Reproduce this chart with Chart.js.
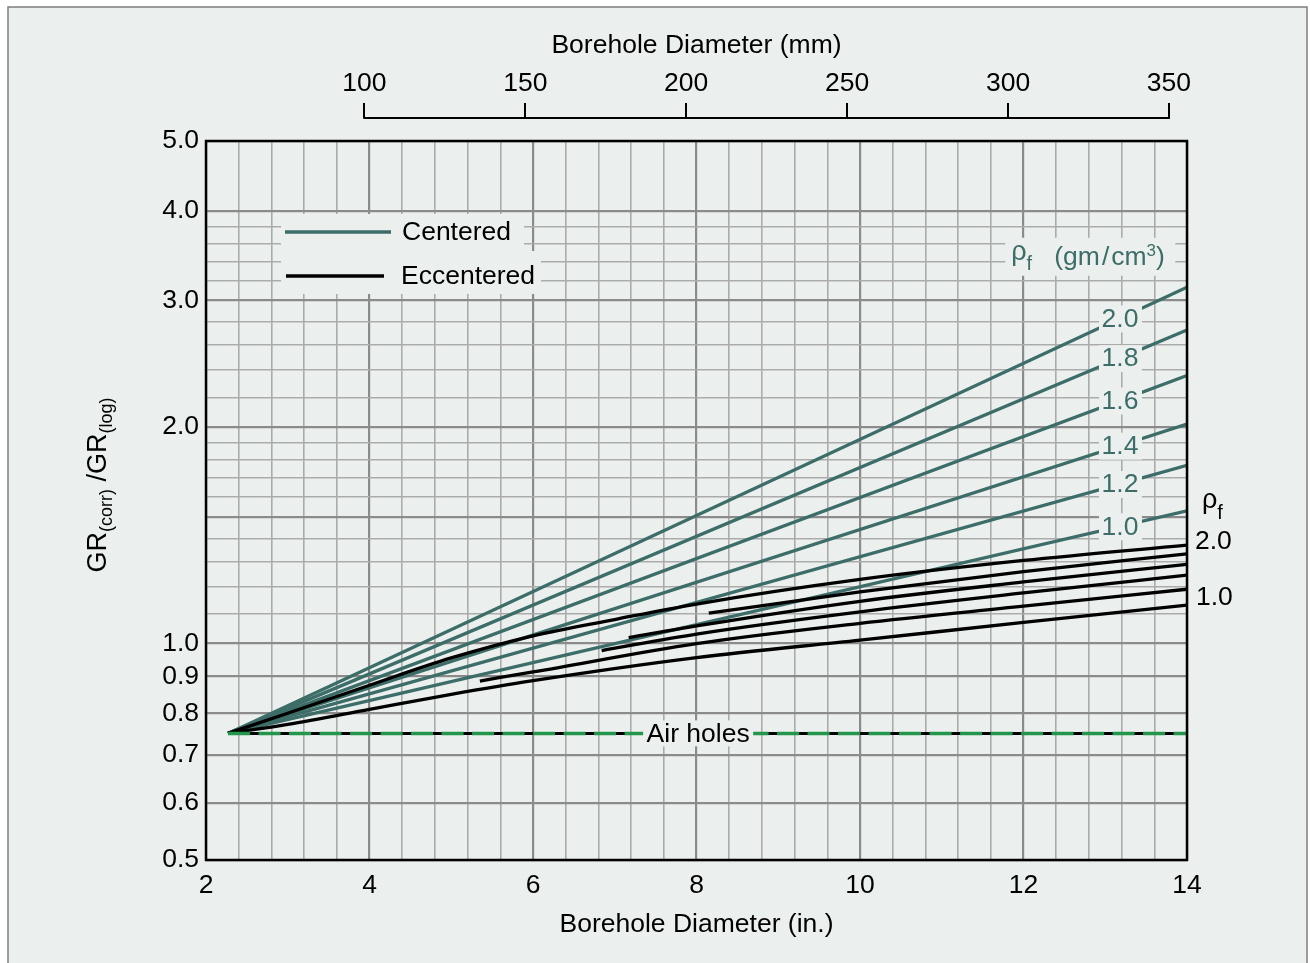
<!DOCTYPE html>
<html>
<head>
<meta charset="utf-8">
<title>GR borehole correction</title>
<script src="https://cdn.jsdelivr.net/npm/chart.js@4.4.1/dist/chart.umd.min.js"></script>
<style>
  html, body { margin: 0; padding: 0; background: #fff; }
  canvas { display: block; }
</style>
</head>
<body>
<canvas id="grChart" width="1310" height="963"></canvas>
<script>
// axis ticks
var inchTicks = [2, 4, 6, 8, 10, 12, 14];
var mmTicks = [100, 150, 200, 250, 300, 350];
var ratioTicks = [0.5, 0.6, 0.7, 0.8, 0.9, 1.0, 2.0, 3.0, 4.0, 5.0];
var ratioGrid = [0.5, 0.6, 0.7, 0.8, 0.9, 1.0, 1.1, 1.2, 1.3, 1.4, 1.5, 1.6, 1.7, 1.8, 1.9,
                 2.0, 2.2, 2.4, 2.6, 2.8, 3.0, 3.2, 3.4, 3.6, 3.8, 4.0, 5.0];
var ratioMajor = [0.5, 0.6, 0.7, 0.8, 0.9, 1.0, 1.5, 2.0, 3.0, 4.0, 5.0];

// centered tool, one straight line per mud density (gm/cm3)
var densities = ['2.0', '1.8', '1.6', '1.4', '1.2', '1.0'];
var centeredX = [2.27, 14];
var centeredStart = 0.75;
var centeredEnd = [3.13, 2.73, 2.36, 2.02, 1.77, 1.53];

// eccentered tool curves, top (2.0) to bottom (1.0)
var ecc20x = [2.27, 3, 4, 5, 6, 7, 8, 10, 12, 14];
var ecc20y = [0.75, 0.80, 0.875, 0.955, 1.025, 1.08, 1.135, 1.228, 1.305, 1.371];
var ecc18x = [8.15, 10, 12, 14];
var ecc18y = [1.102, 1.18, 1.259, 1.333];
var ecc16x = [7.17, 8, 10, 12, 14];
var ecc16y = [1.019, 1.058, 1.145, 1.218, 1.289];
var ecc14x = [6.84, 8, 10, 12, 14];
var ecc14y = [0.978, 1.031, 1.107, 1.176, 1.245];
var ecc12x = [5.35, 6, 8, 10, 12, 14];
var ecc12y = [0.887, 0.913, 1.0, 1.067, 1.127, 1.19];
var ecc10x = [2.27, 3, 4, 5, 6, 8, 10, 12, 14];
var ecc10y = [0.75, 0.772, 0.81, 0.85, 0.888, 0.956, 1.011, 1.07, 1.131];

// air-filled holes
var airX = [2.27, 14];
var airY = [0.75, 0.75];

var FONT = '"Liberation Sans", Arial, Helvetica, sans-serif';
var SIZE = 26.5;
var BG = '#ebf0ee';
var TEAL = '#3d6d68';
var GREEN = '#22964a';
var labelAtX = 13.18;

Chart.defaults.font.family = FONT;
Chart.defaults.font.size = SIZE;
Chart.defaults.color = '#000';

function pts(xs, ys) {
    return xs.map(function(x, i) { return { x: x, y: ys[i] }; });
}

var centeredSets = centeredEnd.map(function(end, i) {
    return {
        label: 'Centered ' + densities[i],
        data: pts(centeredX, [centeredStart, end]),
        borderColor: TEAL,
        borderWidth: 3.3,
        pointRadius: 0,
        order: 3
    };
});

var eccSets = [[ecc20x, ecc20y], [ecc18x, ecc18y], [ecc16x, ecc16y],
               [ecc14x, ecc14y], [ecc12x, ecc12y], [ecc10x, ecc10y]].map(function(c, i) {
    return {
        label: 'Eccentered ' + densities[i],
        data: pts(c[0], c[1]),
        borderColor: '#000',
        borderWidth: 3.3,
        pointRadius: 0,
        cubicInterpolationMode: 'monotone',
        order: 2
    };
});

var airSets = [{
    label: 'Air holes',
    data: pts(airX, airY),
    borderColor: '#000',
    borderWidth: 3,
    pointRadius: 0,
    order: 1
}, {
    label: 'Air holes dash',
    data: pts(airX, airY),
    borderColor: GREEN,
    borderWidth: 3.5,
    borderDash: [22, 8.5],
    pointRadius: 0,
    order: 0
}];

function isMajorInch(v) {
    return inchTicks.indexOf(Math.round(v * 10) / 10) >= 0;
}

// value of a straight (log) centered line at x
function lineValueAt(ds, x) {
    var a = ds.data[0], b = ds.data[ds.data.length - 1];
    var t = (x - a.x) / (b.x - a.x);
    return Math.pow(10, Math.log10(a.y) + t * (Math.log10(b.y) - Math.log10(a.y)));
}

// parts: [text, size, dy, extra gap after]
function drawRich(c, parts, x, y) {
    parts.forEach(function(p) {
        c.font = p[1] + 'px ' + FONT;
        c.fillText(p[0], x, y + p[2]);
        x += c.measureText(p[0]).width + (p[3] || 0);
    });
    return x;
}

var decor = {
    id: 'decor',
    beforeDraw: function(chart) {
        var c = chart.ctx;
        c.save();
        c.fillStyle = '#fff';
        c.fillRect(0, 0, chart.width, chart.height);
        c.fillStyle = BG;
        c.fillRect(8, 7, 1299, chart.height - 7);
        c.strokeStyle = '#7d7d7d';
        c.lineWidth = 1.5;
        c.beginPath();
        c.moveTo(8, chart.height);
        c.lineTo(8, 7);
        c.lineTo(1307, 7);
        c.lineTo(1307, chart.height);
        c.stroke();
        c.restore();
    },
    beforeDatasetsDraw: function(chart) {
        var c = chart.ctx, xs = chart.scales.x, ys = chart.scales.y;
        c.save();
        // legend
        c.fillStyle = BG;
        c.fillRect(281, 214, 243, 37);
        c.fillRect(281, 251, 260, 43);
        c.lineWidth = 3.5;
        c.strokeStyle = TEAL;
        c.beginPath(); c.moveTo(285, 232); c.lineTo(391, 232); c.stroke();
        c.strokeStyle = '#000';
        c.beginPath(); c.moveTo(286, 276); c.lineTo(384, 276); c.stroke();
        c.fillStyle = '#000';
        c.font = SIZE + 'px ' + FONT;
        c.textBaseline = 'middle';
        c.fillText('Centered', 402, 233);
        c.fillText('Eccentered', 401, 277);

        // density header for the centered lines
        var hx = xs.getPixelForValue(11.85), hy = ys.getPixelForValue(3.44);
        c.fillStyle = BG;
        c.fillRect(hx - 6, hy - 20, 170, 38);
        c.fillStyle = TEAL;
        c.textBaseline = 'alphabetic';
        drawRich(c, [['\u03c1', 27, 2], ['f', 20, 12]], hx, hy);
        drawRich(c, [['(gm', SIZE, 7, 2], ['/', SIZE, 7, 2], ['cm', SIZE, 7], ['3', 17, -2], [')', SIZE, 7]], hx + 43, hy);
        c.restore();
    },
    afterDatasetsDraw: function(chart) {
        var c = chart.ctx, a = chart.chartArea;
        var xs = chart.scales.x, ys = chart.scales.y, x2 = chart.scales.x2;
        c.save();
        c.font = SIZE + 'px ' + FONT;
        c.textAlign = 'center';
        c.textBaseline = 'middle';

        // density labels sitting on the centered lines
        centeredSets.forEach(function(ds, i) {
            var px = xs.getPixelForValue(labelAtX);
            var py = ys.getPixelForValue(lineValueAt(ds, labelAtX));
            c.fillStyle = BG;
            c.fillRect(px - 21, py - 13, 43, 27);
            c.fillStyle = TEAL;
            c.fillText(densities[i], px, py + 1);
        });

        // air holes label
        var ax = xs.getPixelForValue(8.02), ay = ys.getPixelForValue(airY[0]);
        c.fillStyle = BG;
        c.fillRect(ax - 55, ay - 13, 110, 26);
        c.fillStyle = '#000';
        c.fillText('Air holes', ax, ay + 1);

        // plot frame
        c.strokeStyle = '#000';
        c.lineWidth = 2.5;
        c.strokeRect(a.left, a.top, a.right - a.left, a.bottom - a.top);

        // top mm axis line
        c.lineWidth = 2;
        c.beginPath();
        c.moveTo(x2.getPixelForValue(mmTicks[0]) - 1, x2.bottom);
        c.lineTo(x2.getPixelForValue(mmTicks[mmTicks.length - 1]) + 1, x2.bottom);
        c.stroke();

        // eccentered density labels at the right edge
        c.textAlign = 'left';
        c.textBaseline = 'alphabetic';
        drawRich(c, [['\u03c1', 27, 0], ['f', 20, 11]], a.right + 15, 508);
        c.font = SIZE + 'px ' + FONT;
        c.textBaseline = 'middle';
        var topEnd = ys.getPixelForValue(ecc20y[ecc20y.length - 1]);
        var lowEnd = ys.getPixelForValue(ecc10y[ecc10y.length - 1]);
        c.fillText('2.0', a.right + 8, topEnd - 3);
        c.fillText('1.0', a.right + 9, lowEnd - 7);

        // y axis title with subscripts
        c.translate(106, 485);
        c.rotate(-Math.PI / 2);
        c.textBaseline = 'alphabetic';
        var parts = [['GR', 27, 0], ['(corr)', 18, 6], [' /', 27, 0], ['GR', 27, 0], ['(log)', 18, 6]];
        var total = 0;
        parts.forEach(function(p) { c.font = p[1] + 'px ' + FONT; total += c.measureText(p[0]).width; });
        drawRich(c, parts, -total / 2, 0);
        c.restore();
    }
};

var ctx = document.getElementById('grChart').getContext('2d');

var grChart = new Chart(ctx, {
    type: 'line',
    data: { datasets: airSets.concat(eccSets, centeredSets) },
    options: {
        responsive: false,
        animation: false,
        layout: { padding: { left: 0, right: 123, top: 0, bottom: 0 } },
        plugins: { legend: { display: false }, tooltip: { enabled: false } },
        scales: {
            x: {
                type: 'linear',
                position: 'bottom',
                min: 2,
                max: 14,
                afterBuildTicks: function(s) {
                    var t = [];
                    for (var k = 0; k <= 30; k++) t.push({ value: Math.round((2 + 0.4 * k) * 10) / 10 });
                    s.ticks = t;
                },
                afterFit: function(s) { s.height = 103; },
                grid: {
                    drawTicks: false,
                    color: function(c) { return c.tick && isMajorInch(c.tick.value) ? '#8b8b8b' : '#ababab'; },
                    lineWidth: function(c) { return c.tick && isMajorInch(c.tick.value) ? 2.2 : 1.6; }
                },
                border: { display: false },
                ticks: {
                    autoSkip: false,
                    maxRotation: 0,
                    padding: 10,
                    callback: function(v) { return isMajorInch(v) ? String(Math.round(v)) : ''; }
                },
                title: { display: true, text: 'Borehole Diameter (in.)', padding: { bottom: 22 } }
            },
            gap: {
                type: 'linear',
                position: 'top',
                weight: 0,
                grid: { display: false },
                ticks: { display: false },
                border: { display: false },
                afterFit: function(s) { s.height = 23; }
            },
            x2: {
                type: 'linear',
                position: 'top',
                weight: 1,
                min: 2 * 25.4,
                max: 14 * 25.4,
                afterBuildTicks: function(s) {
                    s.ticks = mmTicks.map(function(v) { return { value: v }; });
                },
                afterFit: function(s) { s.height = 118; },
                grid: { drawOnChartArea: false, drawTicks: true, tickLength: 15, color: '#000', lineWidth: 2 },
                border: { display: false },
                ticks: { autoSkip: false, maxRotation: 0, padding: 3, callback: function(v) { return String(v); } },
                title: { display: true, text: 'Borehole Diameter (mm)', padding: { top: 30 } }
            },
            y: {
                type: 'logarithmic',
                min: 0.5,
                max: 5,
                afterBuildTicks: function(s) {
                    s.ticks = ratioGrid.map(function(v) { return { value: v }; });
                },
                afterFit: function(s) { s.width = 206; },
                grid: {
                    drawTicks: false,
                    color: function(c) { return c.tick && ratioMajor.indexOf(c.tick.value) >= 0 ? '#8b8b8b' : '#ababab'; },
                    lineWidth: function(c) { return c.tick && ratioMajor.indexOf(c.tick.value) >= 0 ? 2.2 : 1.6; }
                },
                border: { display: false },
                ticks: {
                    autoSkip: false,
                    padding: 7,
                    callback: function(v) { return ratioTicks.indexOf(v) >= 0 ? v.toFixed(1) : ''; }
                }
            }
        }
    },
    plugins: [decor]
});
</script>
</body>
</html>
